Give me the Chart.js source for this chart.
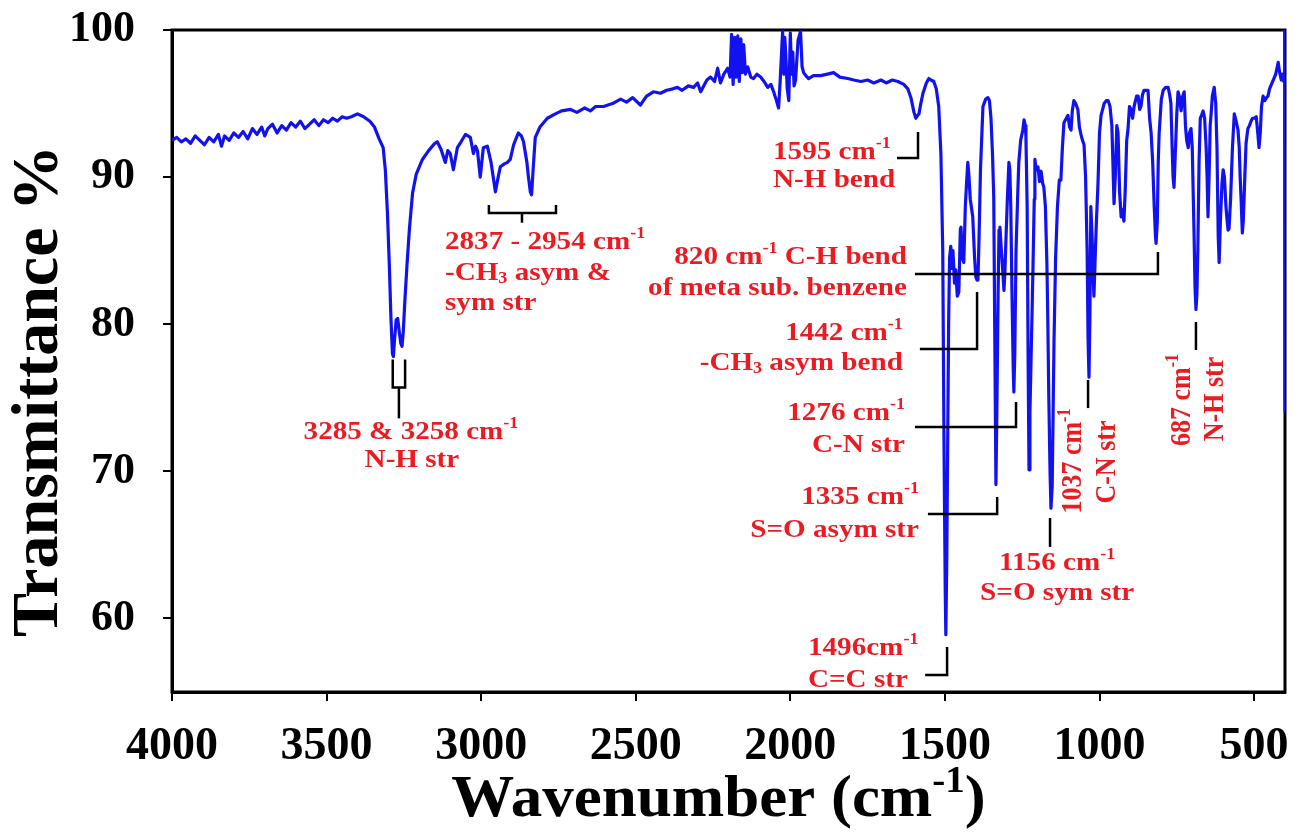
<!DOCTYPE html>
<html>
<head>
<meta charset="utf-8">
<title>FTIR spectrum</title>
<script src="https://cdn.jsdelivr.net/npm/chart.js@4.4.1/dist/chart.umd.min.js"></script>
<style>
  html, body { margin: 0; padding: 0; background: #fff; }
  #wrap { width: 1295px; height: 836px; }
</style>
</head>
<body>
<div id="wrap"><canvas id="ir" width="1295" height="836"></canvas></div>
<script>
// ── axis ranges / ticks ──
const X_MIN = 400, X_MAX = 4000;
const Y_MIN = 55, Y_MAX = 100;
const X_TICKS = [4000, 3500, 3000, 2500, 2000, 1500, 1000, 500];
const Y_TICKS = [60, 70, 80, 90, 100];

// ── spectrum (cm-1 / %T) ──
const WAVENUMBER = [
  4000, 3985, 3970, 3955, 3940, 3925, 3910, 3895, 3880, 3865,
  3850, 3840, 3830, 3815, 3800, 3785, 3770, 3755, 3740, 3725,
  3710, 3700, 3690, 3675, 3660, 3645, 3630, 3615, 3600, 3585,
  3570, 3555, 3540, 3525, 3510, 3495, 3480, 3465, 3450, 3435,
  3420, 3400, 3380, 3360, 3345, 3330, 3317, 3310, 3303, 3297,
  3292, 3287, 3284, 3280, 3275, 3270, 3265, 3260, 3256, 3252,
  3247, 3240, 3232, 3222, 3210, 3190, 3170, 3150, 3142, 3130,
  3116, 3108, 3100, 3090, 3077, 3065, 3051, 3035, 3025, 3018,
  3012, 3003, 2993, 2980, 2968, 2954, 2945, 2938, 2925, 2915,
  2906, 2895, 2880, 2870, 2863, 2852, 2847, 2841, 2837, 2832,
  2825, 2810, 2786, 2760, 2740, 2711, 2690, 2665, 2647, 2630,
  2604, 2590, 2575, 2549, 2530, 2510, 2485, 2465, 2443, 2420,
  2400, 2380, 2365, 2350, 2330, 2313, 2300, 2290, 2270, 2258,
  2245, 2235, 2226, 2215, 2203, 2195, 2190, 2185, 2180, 2175,
  2170, 2165, 2160, 2155, 2151, 2145, 2138, 2128, 2119, 2108,
  2096, 2085, 2073, 2063, 2054, 2045, 2038, 2033, 2028, 2025,
  2021, 2018, 2015, 2010, 2005, 2000, 1996, 1992, 1988, 1983,
  1975, 1967, 1962, 1957, 1950, 1941, 1925, 1902, 1880, 1860,
  1840, 1814, 1795, 1772, 1750, 1730, 1707, 1690, 1670, 1652,
  1633, 1620, 1610, 1600, 1594, 1588, 1584, 1578, 1571, 1560,
  1552, 1545, 1536, 1528, 1520, 1513, 1507, 1503, 1499, 1497,
  1494, 1491, 1488, 1485, 1481, 1477, 1474, 1469, 1465, 1460,
  1455, 1450, 1448, 1444, 1439, 1434, 1430, 1426, 1423, 1418,
  1410, 1404, 1400, 1396, 1393, 1390, 1385, 1377, 1368, 1361,
  1356, 1351, 1346, 1342, 1339, 1336, 1335, 1332, 1328, 1325,
  1322, 1319, 1314, 1309, 1306, 1303, 1298, 1293, 1290, 1287,
  1283, 1279, 1277, 1274, 1270, 1265, 1261, 1255, 1248, 1244,
  1240, 1238, 1234, 1231, 1228, 1225, 1221, 1218, 1215, 1211,
  1209, 1205, 1199, 1194, 1189, 1184, 1180, 1175, 1170, 1167,
  1164, 1160, 1157, 1153, 1150, 1147, 1142, 1136, 1130, 1125,
  1120, 1115, 1110, 1102, 1097, 1092, 1088, 1083, 1077, 1070,
  1065, 1060, 1055, 1050, 1045, 1040, 1037, 1034, 1031, 1028,
  1024, 1020, 1018, 1014, 1010, 1005, 1000, 995, 985, 978,
  972, 966, 960, 956, 953, 949, 944, 940, 935, 930,
  926, 921, 917, 912, 908, 903, 898, 893, 888, 880,
  875, 870, 866, 861, 856, 850, 843, 838, 833, 828,
  823, 819, 817, 813, 810, 807, 800, 794, 786, 778,
  773, 769, 765, 762, 759, 755, 750, 746, 742, 736,
  731, 726, 722, 718, 713, 709, 704, 700, 697, 694,
  691, 688, 685, 682, 678, 674, 670, 665, 660, 655,
  652, 649, 645, 642, 639, 635, 629, 624, 620, 616,
  613, 609, 604, 600, 596, 591, 587, 584, 581, 576,
  570, 564, 558, 552, 548, 545, 542, 538, 535, 530,
  526, 520, 515, 510, 505, 499, 493, 488, 484, 480,
  476, 471, 465, 460, 455, 450, 444, 438, 430, 426,
  422, 418, 412, 408, 404, 402, 401, 400
];
const TRANSMITTANCE = [
  92.5, 92.7, 92.4, 92.6, 92.3, 92.8, 92.5, 92.2, 92.7, 92.4,
  92.9, 92.1, 92.8, 92.5, 93.0, 92.7, 93.1, 92.6, 93.3, 92.9,
  93.4, 92.8, 93.3, 93.6, 93.0, 93.5, 93.2, 93.7, 93.4, 93.8,
  93.3, 93.6, 93.9, 93.5, 93.9, 93.7, 94.0, 93.8, 94.1, 94.0,
  94.1, 94.3, 94.1, 93.8, 93.4, 92.6, 92.0, 90.5, 87.5, 84.0,
  80.5, 78.0, 77.8, 79.0, 80.3, 80.4, 79.5, 78.7, 78.5, 79.5,
  81.5, 84.0, 86.5, 88.9, 90.2, 91.2, 91.8, 92.3, 92.4, 91.9,
  91.0, 91.8, 91.6, 90.5, 92.0, 92.4, 92.9, 92.7, 91.6, 92.1,
  91.8, 90.0, 92.0, 92.1, 91.0, 89.0, 90.0, 90.7, 90.9, 91.0,
  91.2, 92.2, 93.0, 92.8, 92.4, 91.0, 90.0, 89.0, 88.8, 90.5,
  92.7, 93.4, 94.0, 94.3, 94.5, 94.6, 94.4, 94.7, 94.5, 94.8,
  94.8, 94.9, 95.0, 95.3, 95.1, 95.4, 94.9, 95.5, 95.8, 95.7,
  95.9, 96.0, 96.1, 95.9, 96.2, 96.1, 96.4, 95.8, 96.6, 96.8,
  96.5, 97.4, 96.4, 97.0, 97.4, 96.8, 99.7, 96.3, 99.5, 96.8,
  99.6, 96.5, 99.4, 97.1, 99.0, 97.0, 97.5, 96.8, 96.7, 97.0,
  96.8, 96.5, 96.1, 96.3, 95.8, 95.2, 94.7, 96.5, 98.6, 99.9,
  97.0, 99.5, 98.4, 96.0, 95.2, 99.8, 97.0, 98.5, 96.2, 96.6,
  99.3, 99.9, 97.5, 97.1, 96.9, 96.7, 96.9, 96.9, 97.0, 97.1,
  96.8, 96.7, 96.6, 96.5, 96.6, 96.4, 96.6, 96.4, 96.6, 96.5,
  96.3, 96.0, 95.4, 94.4, 94.0, 94.2, 94.3, 95.0, 95.7, 96.4,
  96.7, 96.6, 96.5, 96.0, 94.8, 91.6, 85.0, 72.0, 62.0, 58.9,
  64.0, 72.0, 80.0, 84.5, 85.3, 83.8, 85.0, 82.8, 83.7, 81.9,
  82.2, 86.5, 86.6, 84.5, 84.2, 88.0, 89.6, 91.0, 90.3, 88.5,
  87.3, 84.5, 83.2, 83.0, 83.1, 85.5, 90.5, 94.8, 95.3, 95.4,
  95.2, 94.0, 91.5, 88.6, 80.0, 72.0, 69.1, 74.0, 82.0, 86.4,
  86.6, 85.5, 84.0, 82.3, 83.5, 85.5, 88.5, 91.0, 90.5, 88.0,
  82.0, 77.0, 75.4, 78.0, 85.0, 88.5, 91.0, 92.5, 93.2, 93.9,
  93.5, 92.8, 88.0, 78.0, 70.1, 74.0, 78.0, 80.9, 84.0, 88.5,
  91.2, 90.5, 90.7, 89.7, 90.4, 89.6, 89.3, 88.0, 84.0, 80.0,
  75.1, 70.0, 67.5, 69.0, 74.0, 79.0, 84.5, 88.0, 89.8, 89.8,
  92.0, 93.7, 93.9, 94.2, 93.4, 93.2, 94.5, 95.2, 95.0, 94.6,
  93.4, 92.9, 92.5, 92.2, 90.0, 85.0, 79.0, 76.4, 80.5, 88.0,
  86.0, 83.0, 81.9, 84.5, 87.0, 89.5, 93.0, 94.2, 95.0, 95.2,
  95.2, 94.8, 93.5, 90.5, 88.2, 90.0, 93.5, 93.0, 89.0, 87.3,
  87.8, 87.0, 89.0, 92.5, 93.2, 94.8, 94.6, 94.0, 94.8, 95.5,
  95.5, 94.6, 94.8, 95.6, 95.9, 95.9, 95.9, 94.0, 93.0, 91.0,
  88.0, 86.0, 85.5, 87.0, 91.0, 93.0, 95.3, 95.9, 96.1, 96.1,
  95.6, 95.0, 92.0, 90.0, 89.3, 91.5, 94.3, 95.8, 95.5, 94.5,
  95.5, 95.8, 93.5, 92.5, 92.0, 93.0, 93.3, 92.0, 89.0, 86.0,
  82.5, 81.0, 82.0, 85.0, 91.0, 94.0, 94.2, 94.5, 94.0, 92.0,
  90.0, 87.3, 90.5, 93.5, 94.3, 95.5, 96.1, 95.0, 92.0, 86.0,
  84.2, 87.0, 89.5, 90.5, 90.0, 88.0, 87.0, 86.4, 86.5, 88.5,
  92.0, 94.3, 93.8, 93.2, 92.0, 90.0, 88.5, 86.2, 87.0, 90.0,
  92.3, 93.3, 93.5, 93.8, 94.0, 94.0, 94.1, 93.0, 92.0, 93.0,
  94.8, 95.5, 95.2, 95.4, 95.5, 96.0, 96.3, 96.6, 97.0, 97.4,
  97.8, 97.2, 96.6, 97.0, 96.5, 96.9, 100, 74.0
];

// ── peak annotations (data units: cm-1, %T) ──
const BRACKETS = [
  [[3286, 77.6], [3286, 75.7], [3246, 75.7], [3246, 77.6]],
  [[3266, 75.7], [3266, 73.6]],
  [[2975, 88.1], [2975, 87.56], [2758, 87.56], [2758, 88.1]],
  [[2868, 87.56], [2868, 86.9]],
  [[1655, 91.3], [1587, 91.3], [1587, 93.07]],
  [[1597, 83.41], [811, 83.41], [811, 84.91]],
  [[1581, 78.32], [1396, 78.32], [1396, 82.19]],
  [[1597, 73.01], [1270, 73.01], [1270, 74.71]],
  [[1555, 67.1], [1331, 67.1], [1331, 68.26]],
  [[1564, 56.16], [1493, 56.16], [1493, 58.06]],
  [[1160, 66.83], [1160, 64.86]],
  [[1037, 76.21], [1037, 74.3]],
  [[688, 80.15], [688, 78.25]]
];

const PEAK_LABELS = [
  { text: '3285 & 3258 cm^{-1}', wn: 3227, t: 72.67, align: 'center' },
  { text: 'N-H str', wn: 3224, t: 70.77, align: 'center' },
  { text: '2837 - 2954 cm^{-1}', wn: 3117, t: 85.59, align: 'left' },
  { text: '-CH_{3} asym &', wn: 3117, t: 83.48, align: 'left' },
  { text: 'sym str', wn: 3117, t: 81.44, align: 'left' },
  { text: '1595 cm^{-1}', wn: 2056, t: 91.71, align: 'left' },
  { text: 'N-H bend', wn: 2056, t: 89.8, align: 'left' },
  { text: '820 cm^{-1} C-H bend', wn: 1623, t: 84.57, align: 'right' },
  { text: 'of meta sub. benzene', wn: 1623, t: 82.46, align: 'right' },
  { text: '1442 cm^{-1}', wn: 1636, t: 79.4, align: 'right' },
  { text: '-CH_{3} asym bend', wn: 1636, t: 77.36, align: 'right' },
  { text: '1276 cm^{-1}', wn: 1629, t: 73.96, align: 'right' },
  { text: 'C-N str', wn: 1629, t: 71.79, align: 'right' },
  { text: '1335 cm^{-1}', wn: 1584, t: 68.26, align: 'right' },
  { text: 'S=O asym str', wn: 1584, t: 66.01, align: 'right' },
  { text: '1496cm^{-1}', wn: 1943, t: 57.99, align: 'left' },
  { text: 'C=C str', wn: 1943, t: 55.81, align: 'left' },
  { text: '1156 cm^{-1}', wn: 1137, t: 63.77, align: 'center' },
  { text: 'S=O sym str', wn: 1137, t: 61.73, align: 'center' },
  { text: '1037 cm^{-1}', wn: 1083, t: 70.7, align: 'center', rotate: true },
  { text: 'C-N str', wn: 973, t: 70.63, align: 'center', rotate: true },
  { text: '687 cm^{-1}', wn: 733, t: 74.85, align: 'center', rotate: true },
  { text: 'N-H str', wn: 626, t: 74.92, align: 'center', rotate: true }
];

const SERIF = "'Liberation Serif', 'Times New Roman', serif";
const RED = '#ec1b22';
const BLUE = '#1212f0';

// split "cm^{-1}" / "CH_{3}" into normal, sup and sub runs
function parseRuns(str) {
  const runs = [];
  const re = /\^\{([^}]*)\}|_\{([^}]*)\}|([^^_]+)/g;
  let m;
  while ((m = re.exec(str))) {
    if (m[1] !== undefined) runs.push({ t: m[1], kind: 'sup' });
    else if (m[2] !== undefined) runs.push({ t: m[2], kind: 'sub' });
    else runs.push({ t: m[3], kind: 'n' });
  }
  return runs;
}

function drawRich(ctx, str, px, py, opt) {
  const size = opt.size, sx = opt.stretch || 1;
  const runs = parseRuns(str);
  ctx.save();
  ctx.translate(px, py);
  if (opt.rotate) { ctx.rotate(-Math.PI / 2); ctx.scale(1, sx); }
  else ctx.scale(sx, 1);
  ctx.textBaseline = 'middle';
  ctx.textAlign = 'left';
  ctx.fillStyle = opt.color;
  let total = 0;
  runs.forEach(r => {
    r.size = r.kind === 'n' ? size : size * 0.62;
    ctx.font = `bold ${r.size}px ${SERIF}`;
    r.w = ctx.measureText(r.t).width;
    total += r.w;
  });
  let cx = opt.align === 'left' ? 0 : opt.align === 'right' ? -total : -total / 2;
  runs.forEach(r => {
    ctx.font = `bold ${r.size}px ${SERIF}`;
    const dy = r.kind === 'sup' ? -size * 0.3 : r.kind === 'sub' ? size * 0.24 : 0;
    ctx.fillText(r.t, cx, dy);
    cx += r.w;
  });
  ctx.restore();
}

const frameBox = {
  id: 'frameBox',
  beforeDatasetsDraw(chart) {
    const { ctx, chartArea: a } = chart;
    ctx.save();
    ctx.strokeStyle = '#000';
    ctx.lineWidth = 3;
    ctx.strokeRect(a.left, a.top, a.right - a.left, a.bottom - a.top);
    ctx.restore();
  }
};

const irLabels = {
  id: 'irLabels',
  afterDraw(chart) {
    const { ctx, chartArea: a, scales: { x, y } } = chart;
    ctx.save();
    ctx.strokeStyle = '#000';
    ctx.lineWidth = 2.5;
    ctx.lineJoin = 'miter';
    BRACKETS.forEach(path => {
      ctx.beginPath();
      path.forEach(([w, t], i) => {
        const px = x.getPixelForValue(w), py = y.getPixelForValue(t);
        i ? ctx.lineTo(px, py) : ctx.moveTo(px, py);
      });
      ctx.stroke();
    });
    PEAK_LABELS.forEach(l => {
      drawRich(ctx, l.text, x.getPixelForValue(l.wn), y.getPixelForValue(l.t),
        { size: 26, stretch: 1.12, align: l.align, rotate: l.rotate, color: RED });
    });
    // axis titles
    drawRich(ctx, 'Wavenumber (cm^{-1})', (a.left + a.right) / 2 - 10, a.bottom + 108,
      { size: 60, stretch: 1.05, align: 'center', color: '#000' });
    drawRich(ctx, 'Transmittance %', 40, 391,
      { size: 66, stretch: 1.0, align: 'center', rotate: true, color: '#000' });
    ctx.restore();
  }
};

const points = WAVENUMBER.map((w, i) => ({ x: w, y: TRANSMITTANCE[i] }));

new Chart(document.getElementById('ir'), {
  type: 'line',
  data: {
    datasets: [{
      data: points,
      borderColor: BLUE,
      borderWidth: 3.2,
      borderJoinStyle: 'round',
      pointRadius: 0,
      tension: 0,
      fill: false
    }]
  },
  options: {
    responsive: false,
    animation: false,
    layout: { autoPadding: false, padding: { top: 30, right: 10, left: 0, bottom: 0 } },
    plugins: { legend: { display: false }, tooltip: { enabled: false } },
    scales: {
      x: {
        type: 'linear', reverse: true, min: X_MIN, max: X_MAX,
        afterBuildTicks: s => { s.ticks = X_TICKS.map(v => ({ value: v })); },
        afterFit: s => { s.height = 144; s.paddingLeft = 0; s.paddingRight = 0; },
        ticks: {
          color: '#000', padding: 19, maxRotation: 0, autoSkip: false,
          font: { family: SERIF, size: 46, weight: 'bold' },
          callback: v => String(v)
        },
        grid: { drawOnChartArea: false, color: '#000', lineWidth: 2, tickLength: 9 },
        border: { color: '#000', width: 3 }
      },
      y: {
        min: Y_MIN, max: Y_MAX,
        afterBuildTicks: s => { s.ticks = Y_TICKS.map(v => ({ value: v })); },
        afterFit: s => { s.width = 172; s.paddingTop = 0; s.paddingBottom = 0; },
        ticks: {
          color: '#000', padding: 28,
          font: { family: SERIF, size: 44, weight: 'bold' },
          callback: v => String(v)
        },
        grid: { drawOnChartArea: false, color: '#000', lineWidth: 2, tickLength: 9 },
        border: { color: '#000', width: 3 }
      }
    }
  },
  plugins: [frameBox, irLabels]
});
</script>
</body>
</html>
